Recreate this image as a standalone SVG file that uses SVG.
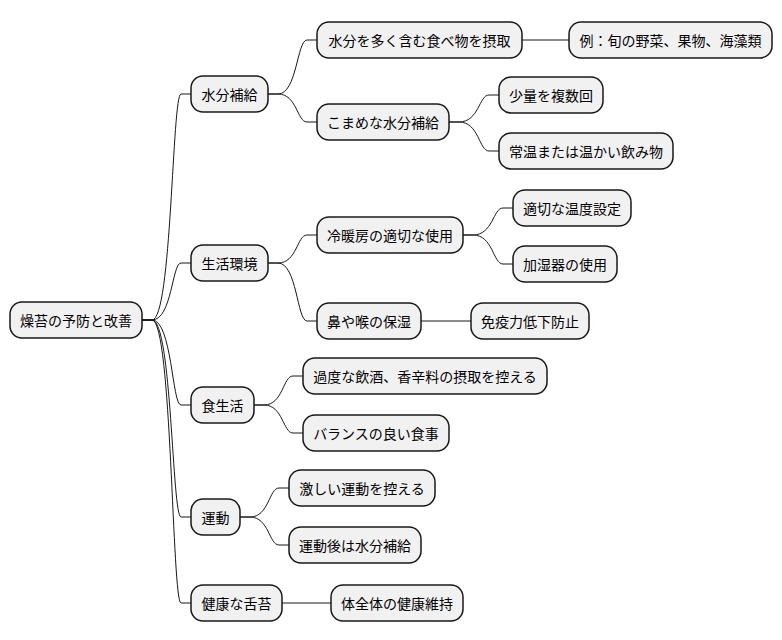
<svg xmlns="http://www.w3.org/2000/svg" width="782" height="640" viewBox="0 0 782 640">
<style>
rect{fill:#F1F1F1;stroke:#181818;stroke-width:1.5}
text{font-family:"Noto Sans CJK JP",sans-serif;font-size:14px;fill:#000;text-anchor:middle;dominant-baseline:central}
#edges path{fill:none;stroke:#181818;stroke-width:1}
</style>
<rect x="0" y="0" width="782" height="640" style="fill:#fff;stroke:none"/>
<g id="edges">
<path d="M142,320 h10 C172,320 172,94 181,94 h10"/>
<path d="M142,320 h10 C172,320 172,263 181,263 h10"/>
<path d="M142,320 h10 C172,320 172,405 181,405 h10"/>
<path d="M142,320 h10 C172,320 172,517 181,517 h10"/>
<path d="M142,320 h10 C172,320 172,603 181,603 h10"/>
<path d="M268,94 h10 C297,94 297,40 307,40 h10"/>
<path d="M268,94 h10 C297,94 297,122 307,122 h10"/>
<path d="M522,40 h47"/>
<path d="M449,122 h10 C479,122 479,95 489,95 h10"/>
<path d="M449,122 h10 C479,122 479,151 489,151 h10"/>
<path d="M268,263 h10 C297,263 297,235 307,235 h10"/>
<path d="M268,263 h10 C297,263 297,321 307,321 h10"/>
<path d="M463,235 h10 C493,235 493,208 503,208 h10"/>
<path d="M463,235 h10 C493,235 493,264 503,264 h10"/>
<path d="M421,321 h50"/>
<path d="M254,405 h10 C283,405 283,376 293,376 h10"/>
<path d="M254,405 h10 C283,405 283,433 293,433 h10"/>
<path d="M240,517 h10 C269,517 269,488 279,488 h10"/>
<path d="M240,517 h10 C269,517 269,545 279,545 h10"/>
<path d="M282,603 h49"/>
</g>
<g id="root"><rect x="10" y="302" width="132" height="36" rx="12"/><text x="76" y="320">燥苔の予防と改善</text></g>
<g id="n1"><rect x="191" y="76" width="77" height="36" rx="12"/><text x="229.5" y="94">水分補給</text></g>
<g id="n2"><rect x="191" y="245" width="77" height="36" rx="12"/><text x="229.5" y="263">生活環境</text></g>
<g id="n3"><rect x="191" y="387" width="63" height="36" rx="12"/><text x="222.5" y="405">食生活</text></g>
<g id="n4"><rect x="191" y="499" width="49" height="36" rx="12"/><text x="215.5" y="517">運動</text></g>
<g id="n5"><rect x="191" y="585" width="91" height="36" rx="12"/><text x="236.5" y="603">健康な舌苔</text></g>
<g id="n11"><rect x="317" y="22" width="205" height="36" rx="12"/><text x="419.5" y="40">水分を多く含む食べ物を摂取</text></g>
<g id="n12"><rect x="317" y="104" width="132" height="36" rx="12"/><text x="383" y="122">こまめな水分補給</text></g>
<g id="n111"><rect x="569" y="22" width="203" height="36" rx="12"/><text x="670.5" y="40">例：旬の野菜、果物、海藻類</text></g>
<g id="n121"><rect x="499" y="77" width="104" height="36" rx="12"/><text x="551" y="95">少量を複数回</text></g>
<g id="n122"><rect x="499" y="133" width="174" height="36" rx="12"/><text x="586" y="151">常温または温かい飲み物</text></g>
<g id="n21"><rect x="317" y="217" width="146" height="36" rx="12"/><text x="390" y="235">冷暖房の適切な使用</text></g>
<g id="n22"><rect x="317" y="303" width="104" height="36" rx="12"/><text x="369" y="321">鼻や喉の保湿</text></g>
<g id="n211"><rect x="513" y="190" width="118" height="36" rx="12"/><text x="572" y="208">適切な温度設定</text></g>
<g id="n212"><rect x="513" y="246" width="104" height="36" rx="12"/><text x="565" y="264">加湿器の使用</text></g>
<g id="n221"><rect x="471" y="303" width="118" height="36" rx="12"/><text x="530" y="321">免疫力低下防止</text></g>
<g id="n31"><rect x="303" y="358" width="244" height="36" rx="12"/><text x="425" y="376">過度な飲酒、香辛料の摂取を控える</text></g>
<g id="n32"><rect x="303" y="415" width="146" height="36" rx="12"/><text x="376" y="433">バランスの良い食事</text></g>
<g id="n41"><rect x="289" y="470" width="146" height="36" rx="12"/><text x="362" y="488">激しい運動を控える</text></g>
<g id="n42"><rect x="289" y="527" width="132" height="36" rx="12"/><text x="355" y="545">運動後は水分補給</text></g>
<g id="n51"><rect x="331" y="585" width="132" height="36" rx="12"/><text x="397" y="603">体全体の健康維持</text></g>
</svg>
